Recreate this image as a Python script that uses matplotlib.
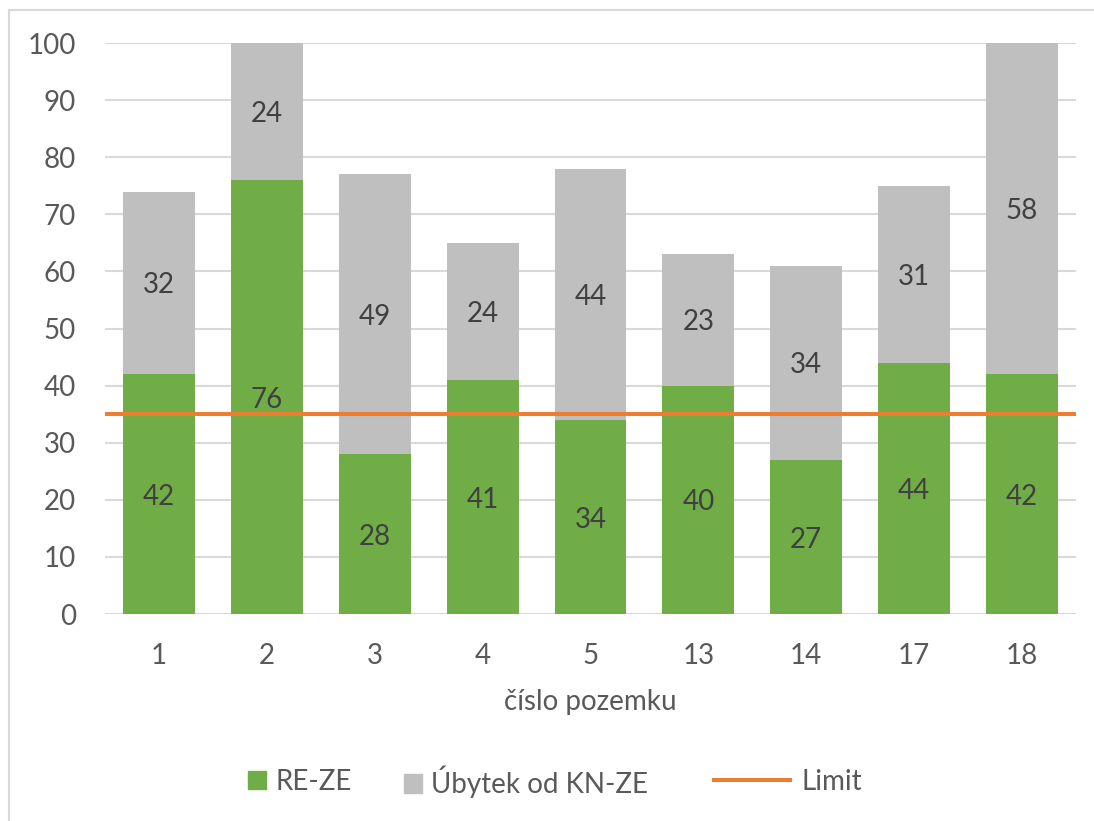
import matplotlib.pyplot as plt
import matplotlib.lines as mlines
import matplotlib.patches as mpatches
import numpy as np

plt.rcParams['font.family'] = ['Lato', 'DejaVu Sans']

# data
pozemky = ['1', '2', '3', '4', '5', '13', '14', '17', '18']
re_ze = [42, 76, 28, 41, 34, 40, 27, 44, 42]
ubytek = [32, 24, 49, 24, 44, 23, 34, 31, 58]
limit = 35

green = '#70AD47'
grey = '#BFBFBF'
orange = '#ED7D31'
txt = '#595959'
lbl = '#404040'
size = 20

fig = plt.figure(figsize=(10.94, 8.21), dpi=100)
ax = fig.add_axes([0.096, 0.252, 0.8875, 0.6956])

x = np.arange(len(pozemky))
b1 = ax.bar(x, re_ze, width=0.667, color=green, label='RE-ZE', zorder=2)
b2 = ax.bar(x, ubytek, width=0.667, bottom=re_ze, color=grey,
            label='Úbytek od KN-ZE', zorder=2)
ax.axhline(limit, color=orange, lw=2.9, zorder=3, label='Limit')

labels = ax.bar_label(b1, label_type='center', fontsize=size, color=lbl, zorder=4)
labels += ax.bar_label(b2, label_type='center', fontsize=size, color=lbl, zorder=4)
for t in labels:
    t.set_va('center_baseline')

ax.set_xlim(-0.5, len(pozemky) - 0.5)
ax.set_ylim(0, 100)
ax.set_yticks(np.arange(0, 101, 10))
ax.set_xticks(x)
ax.set_xticklabels(pozemky)
ax.yaxis.grid(True, color='#D9D9D9', lw=1.5, zorder=0)
ax.set_axisbelow(True)
for s in ax.spines.values():
    s.set_visible(False)
ax.tick_params(axis='both', length=0, labelsize=size, labelcolor=txt)
ax.tick_params(axis='y', pad=21)
ax.tick_params(axis='x', pad=21)
ax.set_xlabel('číslo pozemku', fontsize=size, color=txt, labelpad=14)

# chart frame (cut at right and bottom in the original)
fig.add_artist(mlines.Line2D([0.008, 0.008], [0, 0.988], color='#D9D9D9', lw=1.5))
fig.add_artist(mlines.Line2D([0.008, 1.0], [0.988, 0.988], color='#D9D9D9', lw=1.5))

# legend: one entry each so the line handle can be longer than the squares
px = size * 100 / 72
entries = [
    (mpatches.Patch(color=green), 'RE-ZE', 248, 18, 9),
    (mpatches.Patch(color=grey), 'Úbytek od KN-ZE', 404, 18, 9),
    (mlines.Line2D([], [], color=orange, lw=2.9), 'Limit', 714, 76, 12),
]
for handle, text, xpos, hl, pad in entries:
    fig.legend(handles=[handle], labels=[text], loc='center left',
               bbox_to_anchor=(xpos / 1094, 1 - 782 / 821), frameon=False,
               fontsize=size, labelcolor=txt, borderpad=0, borderaxespad=0,
               handlelength=hl / px, handleheight=18 / px,
               handletextpad=pad / px)

fig.savefig('out.png', dpi=100, facecolor='white')
